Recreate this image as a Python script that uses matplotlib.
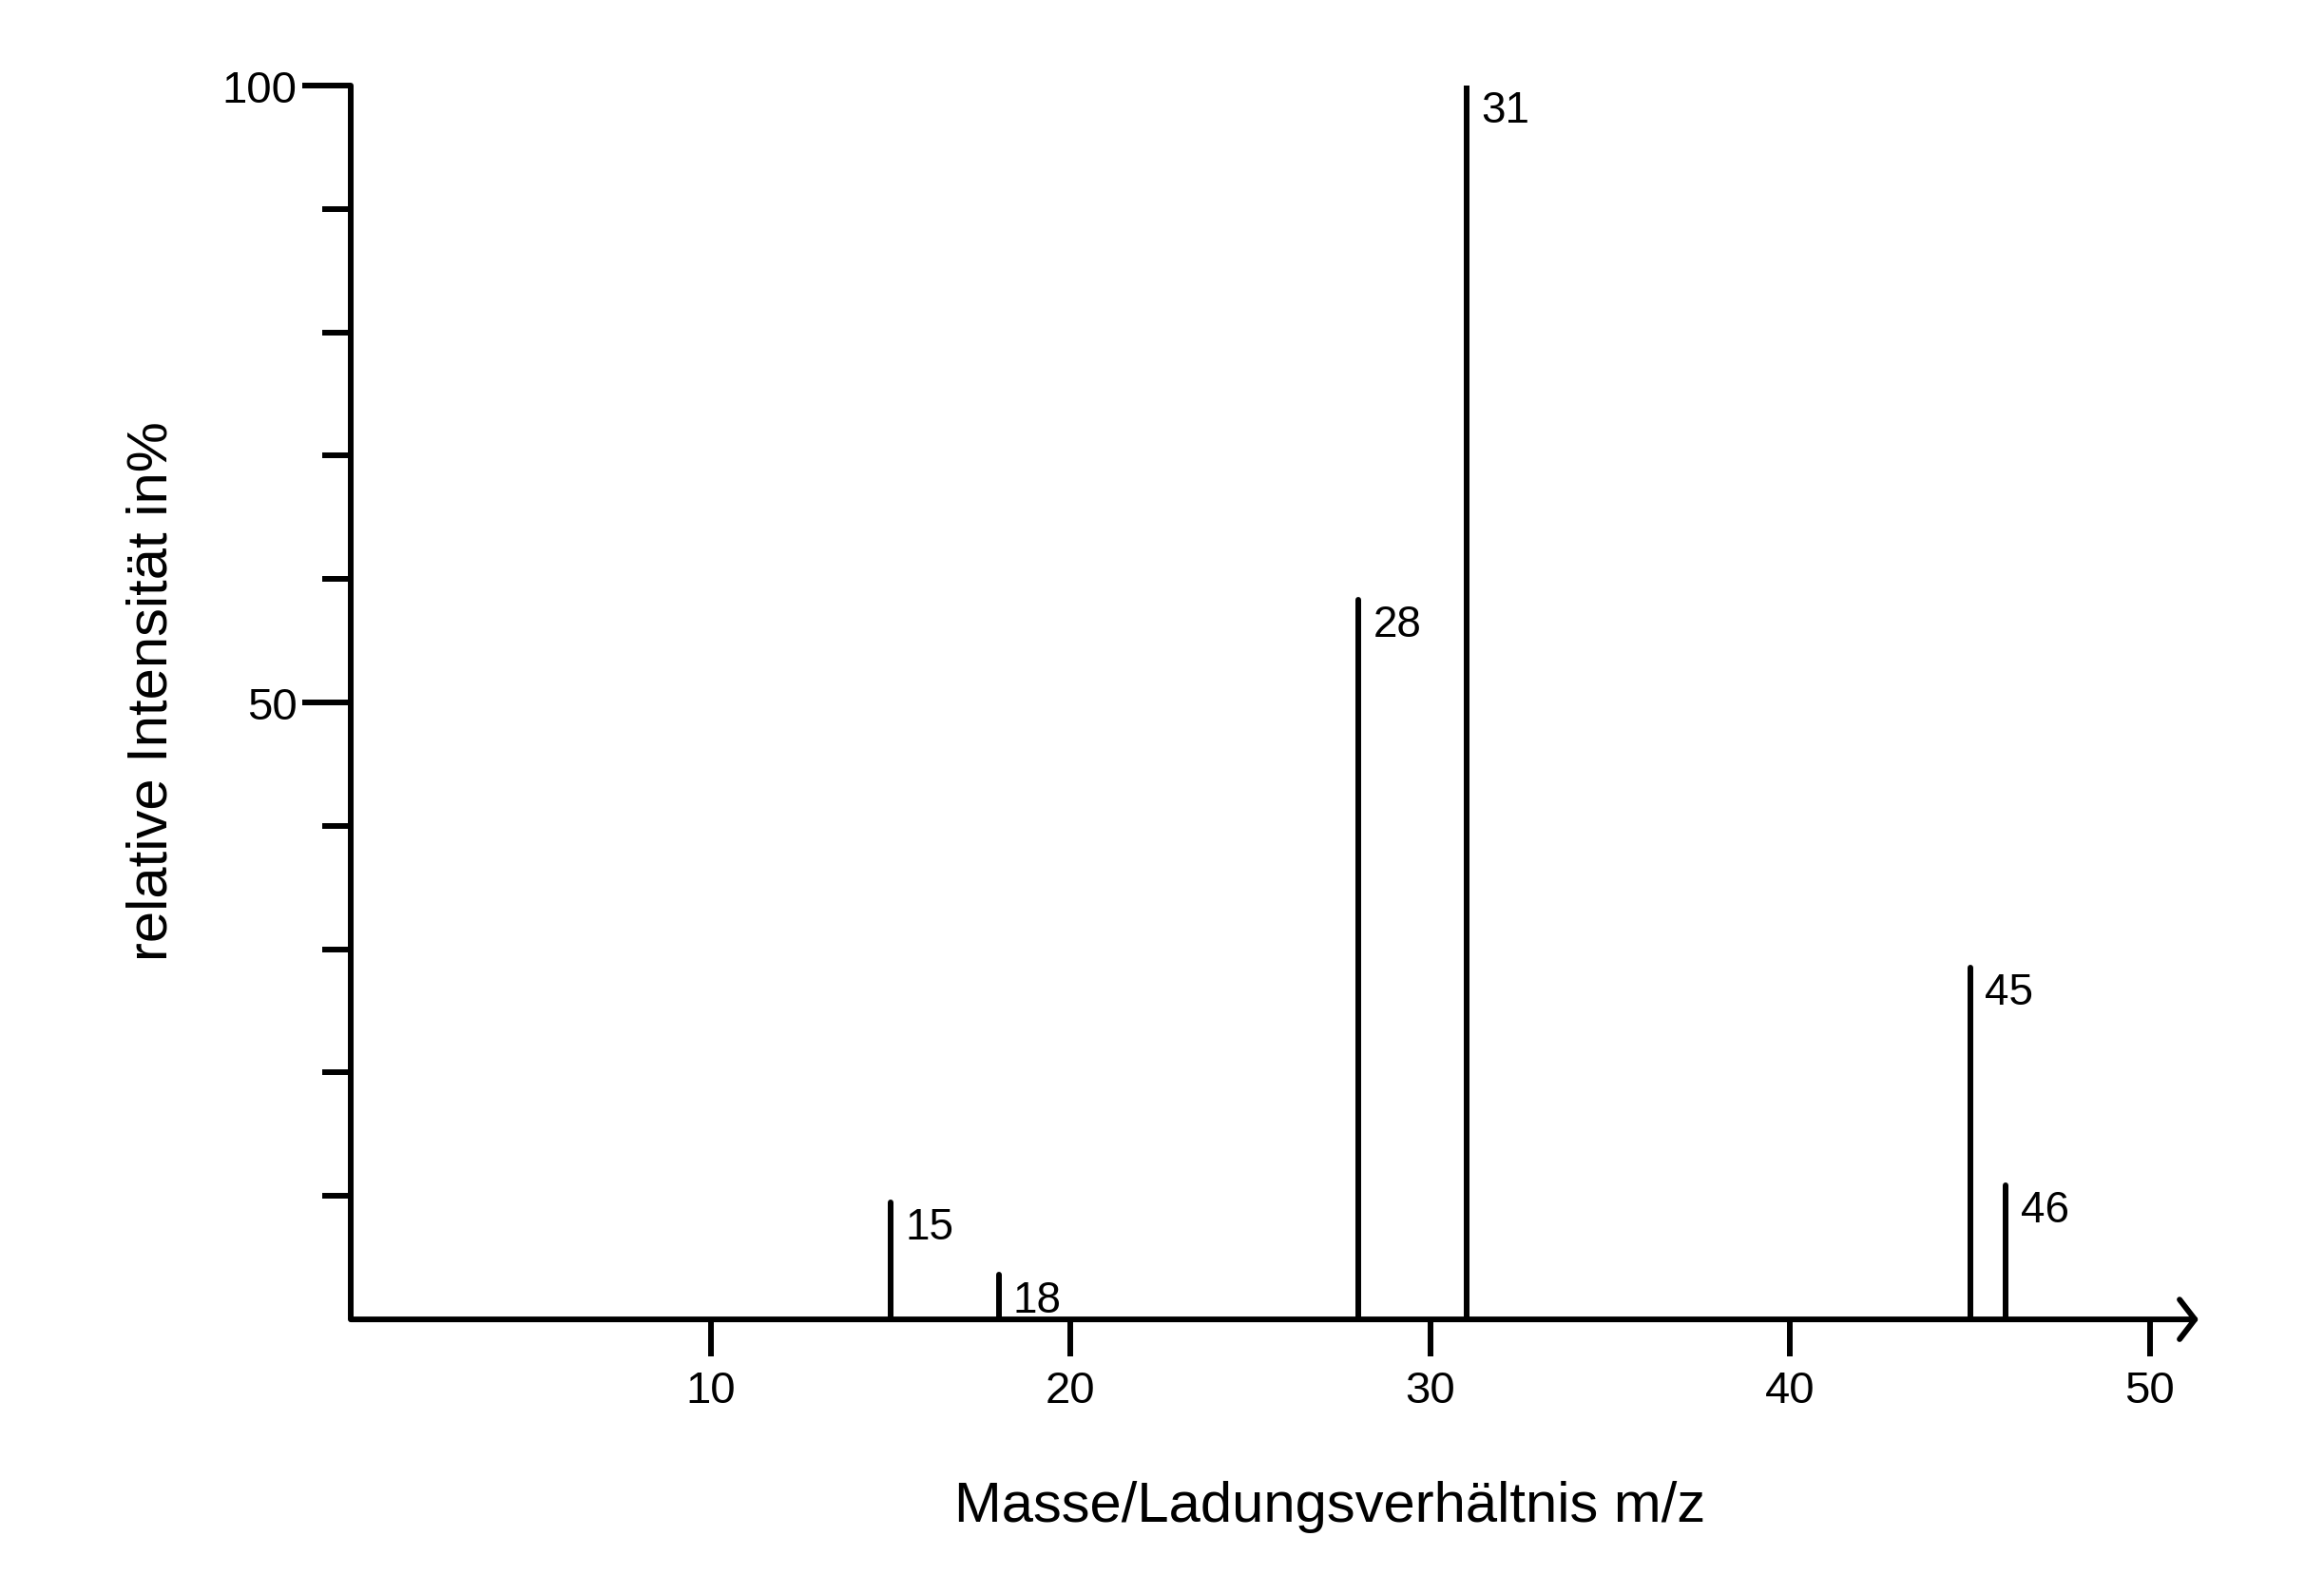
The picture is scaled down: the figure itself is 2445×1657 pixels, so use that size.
import matplotlib
matplotlib.use("Agg")
import matplotlib.pyplot as plt
from matplotlib.ticker import FixedLocator

plt.rcParams["font.family"] = ["Liberation Sans", "DejaVu Sans"]

# mass spectrum peaks
mz = [15, 18, 28, 31, 45, 46]
intensity = [9.5, 3.6, 58.3, 100, 28.5, 10.9]
peak_labels = ["15", "18", "28", "31", "45", "46"]

x_ticks = [10, 20, 30, 40, 50]
y_major = [50, 100]
y_minor = [10, 20, 30, 40, 60, 70, 80, 90]

LW = 4.3

fig = plt.figure(figsize=(24.45, 16.58), dpi=100)
ax = fig.add_axes([0.1511, 0.1622, 0.7949, 0.7829])
ax.set_xlim(0, 51.35)
ax.set_ylim(0, 100)

# peaks
stems = ax.vlines(mz, 0, intensity, color="black", lw=LW)
stems.set_capstyle("round")
for x, y, lab in zip(mz, intensity, peak_labels):
    ax.annotate(lab, xy=(x, y), xytext=(11, -3), textcoords="offset points",
                ha="left", va="top", fontsize=33)

# axes look
for s in ["top", "right", "bottom"]:
    ax.spines[s].set_visible(False)
ax.spines["left"].set_linewidth(LW)
ax.spines["left"].set_capstyle("round")

# x axis with open arrow head
ax.annotate("", xy=(1, 0), xytext=(0, 0), xycoords="axes fraction",
            textcoords="axes fraction",
            arrowprops=dict(arrowstyle="->, head_length=0.58, head_width=0.75",
                            lw=LW, color="black", shrinkA=0, shrinkB=0,
                            mutation_scale=20))

ax.set_xticks(x_ticks)
ax.set_xticklabels([str(t) for t in x_ticks])
ax.tick_params(axis="x", direction="out", length=28, width=LW, pad=10,
               labelsize=34)

ax.set_yticks(y_major)
ax.set_yticklabels([str(t) for t in y_major])
ax.yaxis.set_minor_locator(FixedLocator(y_minor))
ax.tick_params(axis="y", which="major", direction="out", length=37,
               width=LW, pad=4, labelsize=34)
ax.tick_params(axis="y", which="minor", direction="out", length=21.6,
               width=LW)

fig.text(0.5722, 0.0344, "Masse/Ladungsverhältnis m/z", ha="center",
         va="baseline", fontsize=43)
fig.text(0.0654, 0.5615, "relative Intensität in%", ha="center",
         va="center", rotation=90, fontsize=43)

fig.savefig("out.png", dpi=100)
